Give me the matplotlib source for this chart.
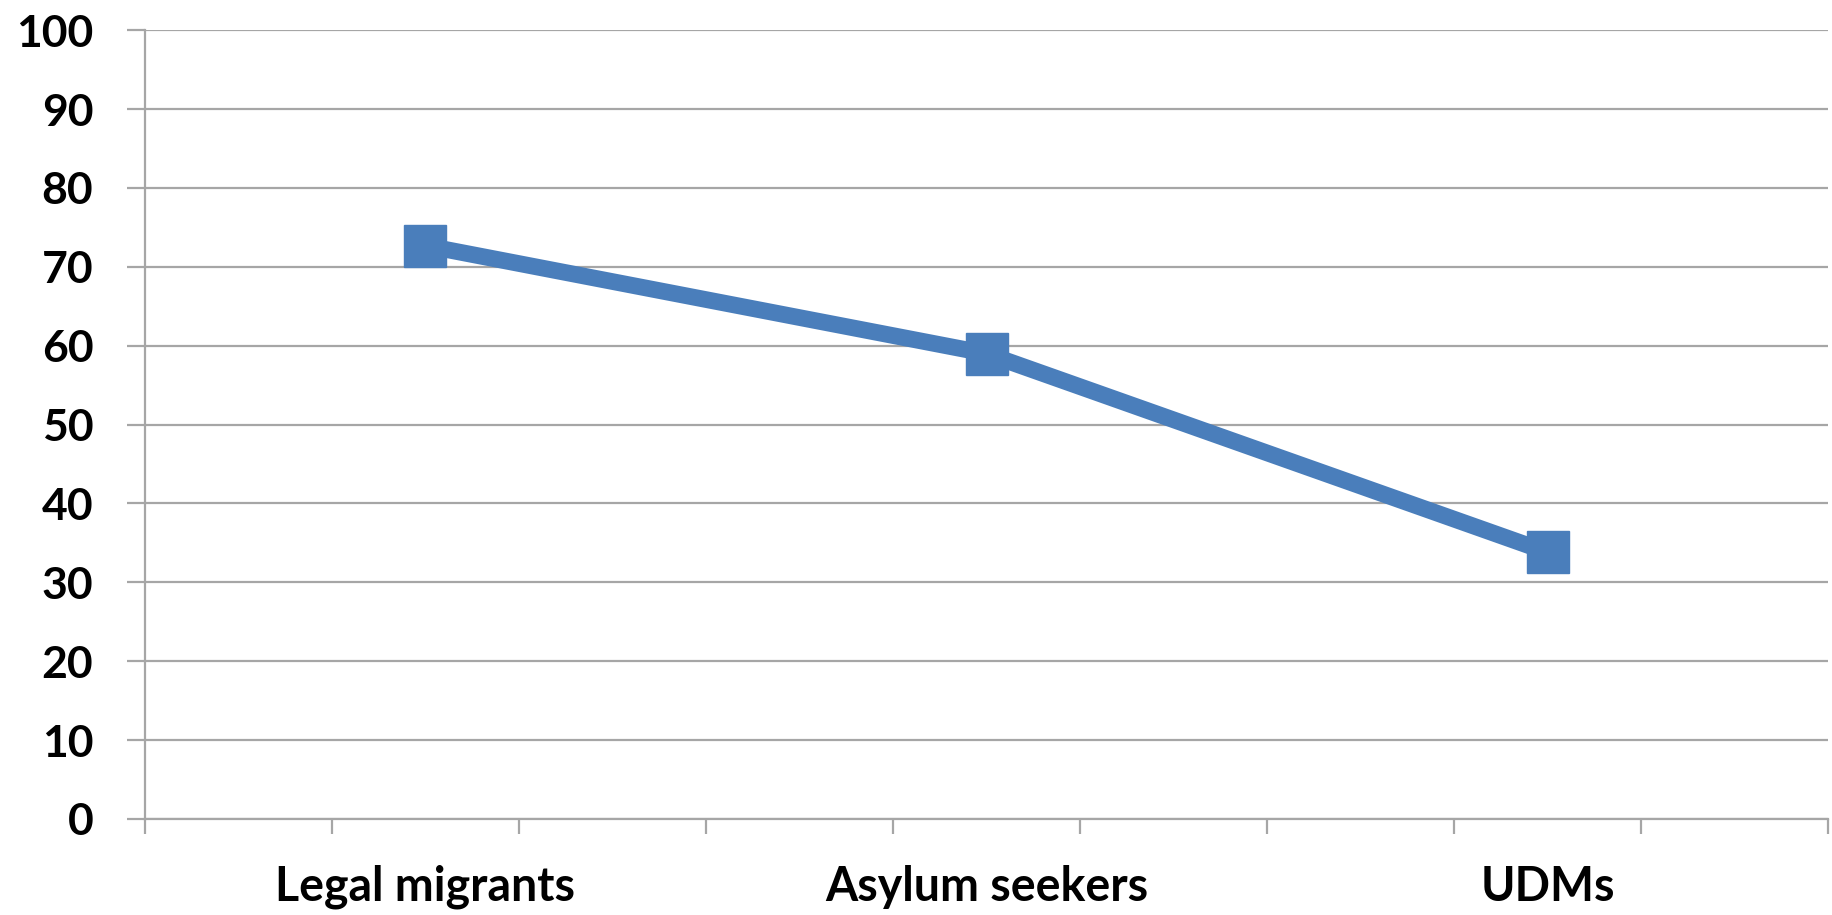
import matplotlib
matplotlib.use("Agg")
import matplotlib.pyplot as plt

categories = ["Legal migrants", "Asylum seekers", "UDMs"]
values = [72.7, 59.0, 33.8]
category_positions = [1.5, 4.5, 7.5]
y_ticks = list(range(0, 101, 10))
x_ticks = list(range(0, 10))

grid_color = "#a6a6a6"
line_color = "#4a7ebb"

plt.rcParams["font.family"] = ["Lato", "DejaVu Sans"]
plt.rcParams["font.weight"] = "bold"

fig = plt.figure(figsize=(18.32, 9.15), dpi=100)
ax = fig.add_axes([0.079, 0.105, 0.919, 0.862])

ax.plot(category_positions, values, color=line_color, linewidth=12,
        marker="s", markersize=30, markerfacecolor=line_color,
        markeredgecolor=line_color, solid_joinstyle="miter", zorder=3)

ax.set_xlim(0, 9)
ax.set_ylim(0, 100)
ax.set_yticks(y_ticks)
ax.set_yticklabels([str(v) for v in y_ticks], fontsize=32, fontweight="bold")

# minor ticks carry the category labels, major ticks draw the marks
ax.set_xticks(x_ticks)
ax.set_xticklabels([])
ax.set_xticks(category_positions, minor=True)
ax.set_xticklabels(categories, minor=True, fontsize=33.5, fontweight="bold")

ax.grid(axis="y", color=grid_color, linewidth=1.6)
ax.set_axisbelow(True)

for side in ["top", "right"]:
    ax.spines[side].set_visible(False)
for side in ["left", "bottom"]:
    ax.spines[side].set_color(grid_color)
    ax.spines[side].set_linewidth(1.6)

ax.tick_params(axis="y", which="major", length=13, width=1.6, color=grid_color,
               pad=24, labelcolor="black")
ax.tick_params(axis="x", which="major", length=11, width=1.6, color=grid_color,
               direction="out")
ax.tick_params(axis="x", which="minor", length=0, pad=33, labelcolor="black")

plt.savefig("out.png", dpi=100)
